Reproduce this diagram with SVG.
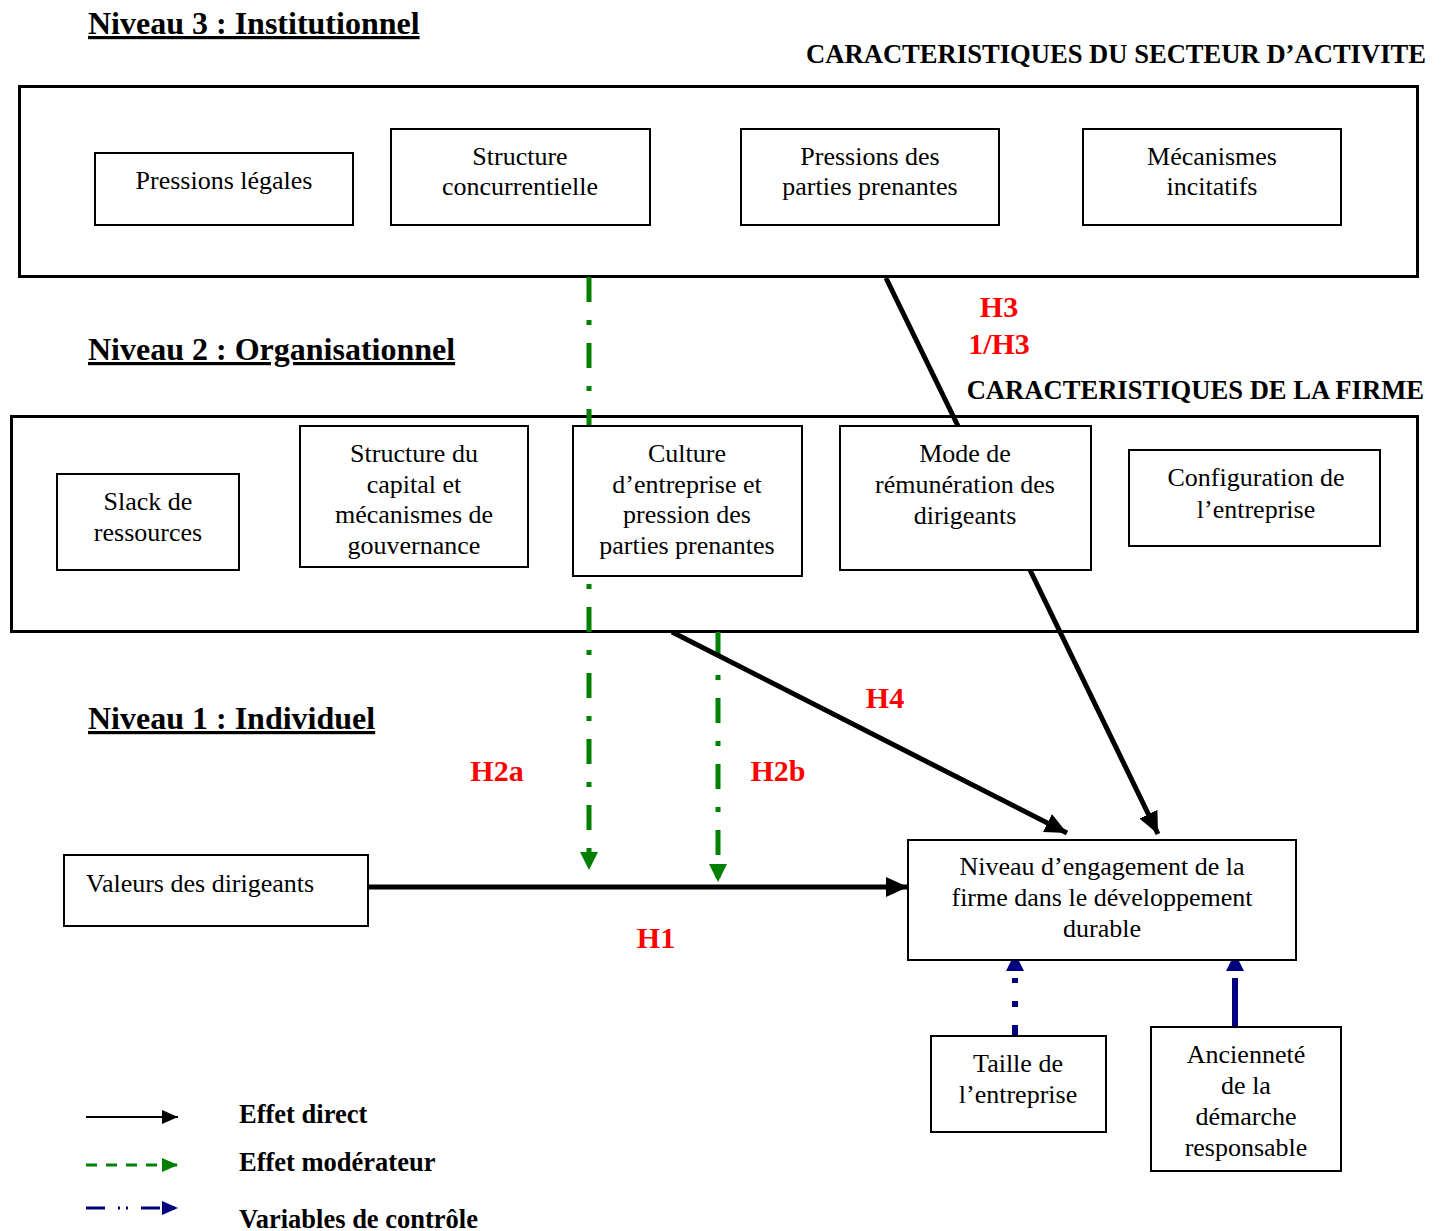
<svg xmlns="http://www.w3.org/2000/svg" width="1442" height="1231" viewBox="0 0 1442 1231">
<style>
  .frame { fill: none; stroke: #000; stroke-width: 3; }
  .box { fill: #fff; stroke: #000; stroke-width: 2; }
  .t { font-family: "Liberation Serif", "Times New Roman", serif; font-size: 26px; fill: #000; text-anchor: middle; }
  .ts { font-family: "Liberation Serif", "Times New Roman", serif; font-size: 26px; fill: #000; text-anchor: start; }
  .title { font-family: "Liberation Serif", "Times New Roman", serif; font-size: 32px; font-weight: bold; text-decoration: underline; fill: #000; }
  .caps { font-family: "Liberation Serif", "Times New Roman", serif; font-size: 26.6px; font-weight: bold; fill: #000; text-anchor: end; }
  .hyp { font-family: "Liberation Serif", "Times New Roman", serif; font-size: 30px; font-weight: bold; fill: #ff0000; text-anchor: middle; }
  .leg { font-family: "Liberation Serif", "Times New Roman", serif; font-size: 26.5px; font-weight: bold; fill: #000; }
  .direct { stroke: #000; stroke-width: 5; fill: none; }
  .moder { stroke: #008000; stroke-width: 5; fill: none; stroke-dasharray: 25 18 5 18; }
  .ctrl { stroke: #000080; stroke-width: 6; fill: none; }
</style>
<defs>
  <marker id="ab" markerUnits="userSpaceOnUse" markerWidth="22" markerHeight="20" refX="22" refY="10" orient="auto">
    <path d="M0,0 L22,10 L0,20 Z" fill="#000"/>
  </marker>
  <marker id="ag" markerUnits="userSpaceOnUse" markerWidth="18" markerHeight="18" refX="18" refY="9" orient="auto">
    <path d="M0,0 L18,9 L0,18 Z" fill="#008000"/>
  </marker>
  <marker id="an" markerUnits="userSpaceOnUse" markerWidth="26" markerHeight="18" refX="0" refY="9" orient="auto">
    <path d="M7,0 L25,9 L7,18 Z" fill="#000080"/>
  </marker>
  <marker id="lb" markerUnits="userSpaceOnUse" markerWidth="16" markerHeight="14" refX="16" refY="7" orient="auto">
    <path d="M0,0 L16,7 L0,14 Z" fill="#000"/>
  </marker>
  <marker id="lg" markerUnits="userSpaceOnUse" markerWidth="16" markerHeight="14" refX="16" refY="7" orient="auto">
    <path d="M0,0 L16,7 L0,14 Z" fill="#008000"/>
  </marker>
  <marker id="ln" markerUnits="userSpaceOnUse" markerWidth="16" markerHeight="14" refX="16" refY="7" orient="auto">
    <path d="M0,0 L16,7 L0,14 Z" fill="#000080"/>
  </marker>
</defs>

<!-- Level titles -->
<g id="titles">
  <text class="title" x="88" y="34">Niveau 3 : Institutionnel</text>
  <text class="caps" x="1426" y="63">CARACTERISTIQUES DU SECTEUR D’ACTIVITE</text>
  <text class="title" x="88" y="360">Niveau 2 : Organisationnel</text>
  <text class="caps" x="1424" y="399">CARACTERISTIQUES DE LA FIRME</text>
  <text class="title" x="88" y="729">Niveau 1 : Individuel</text>
</g>

<!-- Level frames -->
<g id="level3"><rect class="frame" x="19.5" y="86.5" width="1398" height="190"/></g>
<g id="level2"><rect class="frame" x="11.5" y="416.5" width="1406" height="215"/></g>

<!-- Connectors -->
<g id="connectors">
  <line class="moder" x1="589" y1="277" x2="589" y2="870" marker-end="url(#ag)"/>
  <line class="moder" x1="718" y1="632" x2="718" y2="882" marker-end="url(#ag)"/>
  <line class="direct" x1="886" y1="278" x2="958" y2="426"/>
  <line class="direct" x1="1030" y1="570" x2="1158" y2="834" marker-end="url(#ab)"/>
  <line class="direct" x1="672" y1="632" x2="1067" y2="833" marker-end="url(#ab)"/>
  <line class="direct" x1="368" y1="887" x2="908" y2="887" marker-end="url(#ab)"/>
  <line class="ctrl" x1="1015" y1="1035" x2="1015" y2="978" stroke-dasharray="10 18 6 18 6 20" marker-end="url(#an)"/>
  <line class="ctrl" x1="1235" y1="1027" x2="1235" y2="978" marker-end="url(#an)"/>
</g>

<!-- Hypothesis labels -->
<g id="labels">
  <text class="hyp" x="999" y="317">H3</text>
  <text class="hyp" x="999" y="354">1/H3</text>
  <text class="hyp" x="885" y="708">H4</text>
  <text class="hyp" x="497" y="781">H2a</text>
  <text class="hyp" x="778" y="781">H2b</text>
  <text class="hyp" x="656" y="948">H1</text>
</g>

<!-- Level 3 nodes -->
<g id="n-pressions-legales"><rect class="box" x="95" y="153" width="258" height="72"/><text class="t" x="224" y="189">Pressions légales</text></g>
<g id="n-structure-concurrentielle"><rect class="box" x="391" y="129" width="259" height="96"/><text class="t" x="520" y="165">Structure</text><text class="t" x="520" y="195">concurrentielle</text></g>
<g id="n-pressions-parties"><rect class="box" x="741" y="129" width="258" height="96"/><text class="t" x="870" y="165">Pressions des</text><text class="t" x="870" y="195">parties prenantes</text></g>
<g id="n-mecanismes"><rect class="box" x="1083" y="129" width="258" height="96"/><text class="t" x="1212" y="165">Mécanismes</text><text class="t" x="1212" y="195">incitatifs</text></g>

<!-- Level 2 nodes -->
<g id="n-slack"><rect class="box" x="57" y="474" width="182" height="96"/><text class="t" x="148" y="510">Slack de</text><text class="t" x="148" y="541">ressources</text></g>
<g id="n-structure-capital"><rect class="box" x="300" y="426" width="228" height="141"/><text class="t" x="414" y="462">Structure du</text><text class="t" x="414" y="493">capital et</text><text class="t" x="414" y="523">mécanismes de</text><text class="t" x="414" y="554">gouvernance</text></g>
<g id="n-culture"><rect class="box" x="573" y="426" width="229" height="150"/><text class="t" x="687" y="462">Culture</text><text class="t" x="687" y="493">d’entreprise et</text><text class="t" x="687" y="523">pression des</text><text class="t" x="687" y="554">parties prenantes</text></g>
<g id="n-mode"><rect class="box" x="840" y="426" width="251" height="144"/><text class="t" x="965" y="462">Mode de</text><text class="t" x="965" y="493">rémunération des</text><text class="t" x="965" y="524">dirigeants</text></g>
<g id="n-configuration"><rect class="box" x="1129" y="450" width="251" height="96"/><text class="t" x="1256" y="486">Configuration de</text><text class="t" x="1256" y="518">l’entreprise</text></g>

<!-- Level 1 nodes -->
<g id="n-valeurs"><rect class="box" x="64" y="855" width="304" height="71"/><text class="ts" x="86" y="892">Valeurs des dirigeants</text></g>
<g id="n-engagement"><rect class="box" x="908" y="840" width="388" height="120"/><text class="t" x="1102" y="875">Niveau d’engagement de la</text><text class="t" x="1102" y="906">firme dans le développement</text><text class="t" x="1102" y="937">durable</text></g>
<g id="n-taille"><rect class="box" x="931" y="1036" width="175" height="96"/><text class="t" x="1018" y="1072">Taille de</text><text class="t" x="1018" y="1103">l’entreprise</text></g>
<g id="n-anciennete"><rect class="box" x="1151" y="1027" width="190" height="144"/><text class="t" x="1246" y="1063">Ancienneté</text><text class="t" x="1246" y="1094">de la</text><text class="t" x="1246" y="1125">démarche</text><text class="t" x="1246" y="1156">responsable</text></g>

<!-- Legend -->
<g id="legend">
  <line x1="86" y1="1117" x2="178" y2="1117" stroke="#000" stroke-width="2" marker-end="url(#lb)"/>
  <text class="leg" x="239" y="1123">Effet direct</text>
  <line x1="86" y1="1165" x2="178" y2="1165" stroke="#008000" stroke-width="3" stroke-dasharray="11 9" marker-end="url(#lg)"/>
  <text class="leg" x="239" y="1171">Effet modérateur</text>
  <line x1="86" y1="1208" x2="178" y2="1208" stroke="#000080" stroke-width="3" stroke-dasharray="19 13 2 6 2 13" marker-end="url(#ln)"/>
  <text class="leg" x="239" y="1228">Variables de contrôle</text>
</g>
</svg>
